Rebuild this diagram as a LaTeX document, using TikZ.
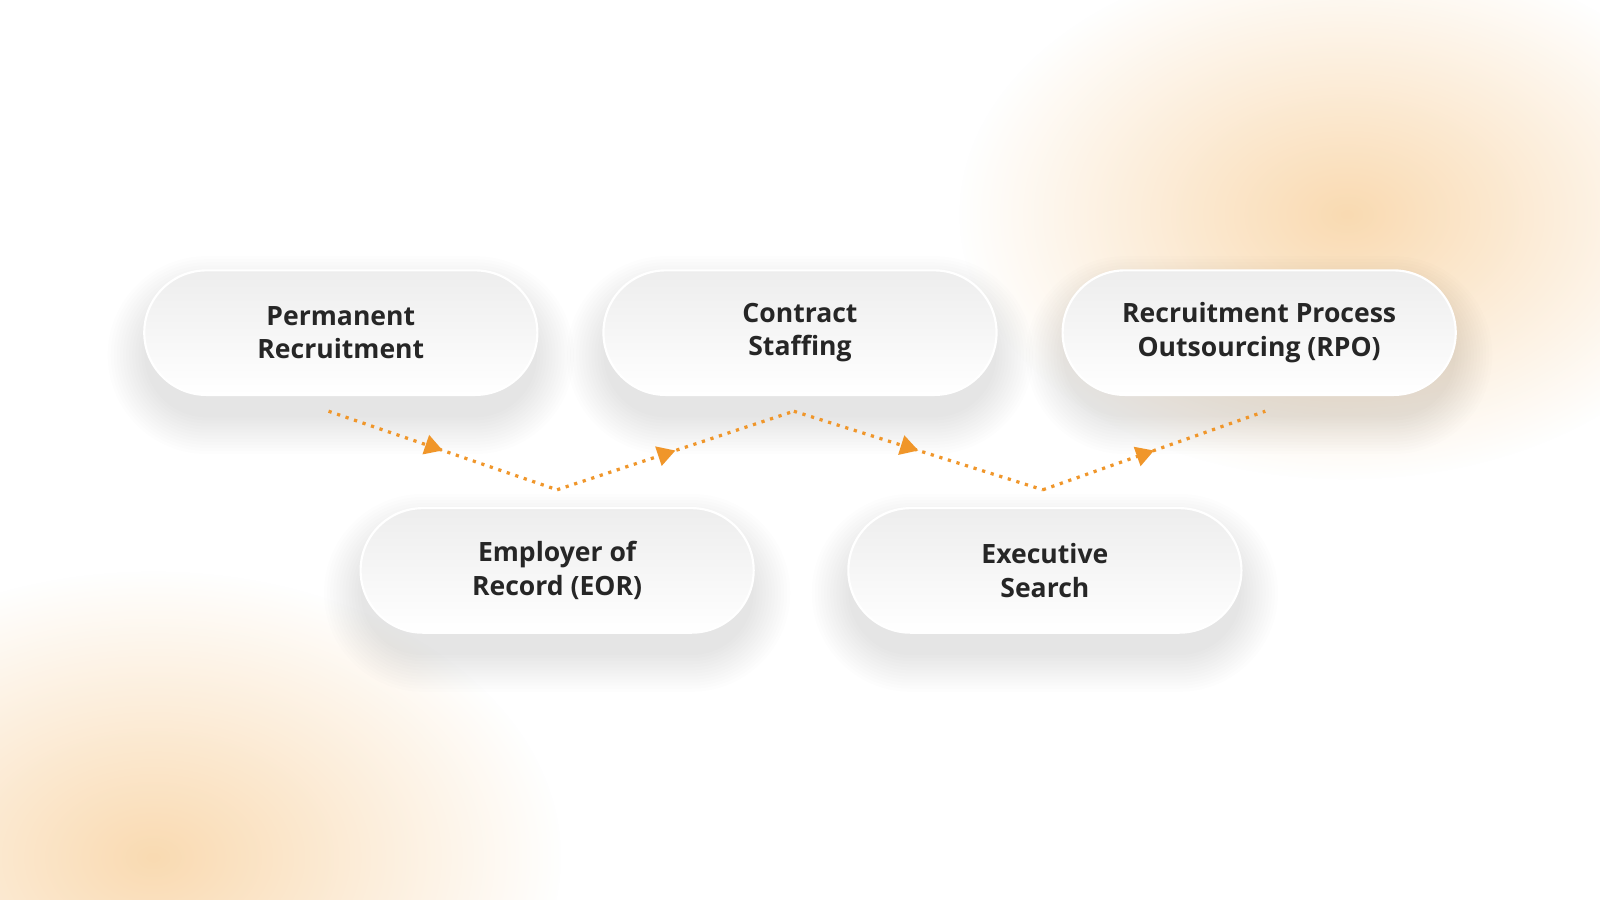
\documentclass[tikz,border=0pt]{standalone}
\usepackage{fontspec}
\setmainfont{Open Sans}
\usetikzlibrary{fadings,decorations.markings,arrows.meta}
\definecolor{org}{HTML}{F0962A}
\definecolor{glow}{HTML}{F6C27E}
\tikzfading[name=glowfade, inner color=transparent!0, outer color=transparent!100]
\tikzset{
 pill/.style={rounded corners=61*0.01cm, minimum width=3.85cm, minimum height=1.22cm,
   top color=black!7, bottom color=white, draw=white, line width=0.6pt, align=center,
   font=\fontsize{7.4}{9.3}\selectfont\bfseries, text=black!85},
 flow/.style={org, line width=0.9pt, dash pattern=on 0.9pt off 1.6pt,
   postaction={decorate}, decoration={markings, mark=at position 0.5 with {\arrow[solid]{Triangle[length=5pt,width=5.5pt]}}}}
}
\begin{document}
\begin{tikzpicture}[x=0.01cm,y=-0.01cm]
\useasboundingbox (0,0) rectangle (1568,882);
\fill[white] (0,0) rectangle (1568,882);
\begin{scope}
\clip (0,0) rectangle (1568,882);
\fill[glow, opacity=0.6, path fading=glowfade] (1320,210) ellipse (380 and 260);
\fill[glow, opacity=0.6, path fading=glowfade] (150,840) ellipse (400 and 280);
\end{scope}
\foreach \p in {(334,326),(784,326),(1234,326),(546,559),(1024,559)}{
 \foreach \s in {0,3,...,36}{
  \fill[black, opacity=0.009, rounded corners={(61+\s)*0.01cm}]
   \p ++(-192.5-\s,-61-\s+22) rectangle ++(385+2*\s,122+2*\s);}}
\node[pill] (pr) at (334,326) {Permanent\\Recruitment};
\node[pill] (cs) at (784,326) {Contract\\Staffing};
\node[pill] (rpo) at (1234,326) {Recruitment Process\\Outsourcing (RPO)};
\node[pill] (eor) at (546,559) {Employer of\\Record (EOR)};
\node[pill] (es) at (1024,559) {Executive\\Search};
\coordinate (a) at (322,403);
\coordinate (b) at (546,480);
\coordinate (c) at (778,403);
\coordinate (d) at (1022,480);
\coordinate (e) at (1240,403);
\draw[flow] (a) -- (b);
\draw[flow] (b) -- (c);
\draw[flow] (c) -- (d);
\draw[flow] (d) -- (e);
\end{tikzpicture}
\end{document}
